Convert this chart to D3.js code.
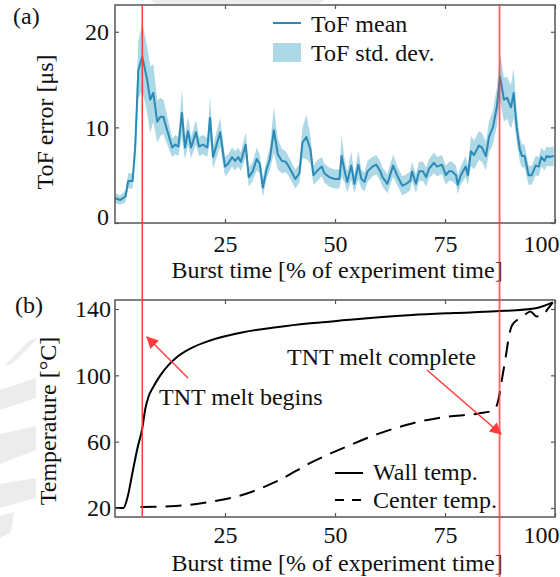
<!DOCTYPE html>
<html>
<head>
<meta charset="utf-8">
<script src="https://cdn.jsdelivr.net/npm/d3@7"></script>
<style>
  html, body { margin: 0; padding: 0; background: #fff; }
  svg { display: block; }
  text { font-family: "Liberation Serif", "Times New Roman", serif; fill: #111; }
</style>
</head>
<body>
<svg id="chart" width="560" height="577"></svg>
<script>
// ---------- Data ----------
const burstTime = [
  0, 1.2, 2.4, 3, 4, 4.6, 5.3, 6.2, 7.3, 8,
  8.7, 9.6, 10.3, 11, 11.6, 13, 13.7, 14.4, 15.2, 15.9,
  16.6, 17.3, 18.4, 19.1, 20, 21, 21.6, 22.3, 23.9, 25,
  25.7, 26.6, 27.3, 28, 28.6, 29.7, 30.4, 31.3, 32.2, 32.9,
  33.6, 34.5, 35.2, 36.1, 37, 37.9, 38.8, 39.5, 41, 41.9,
  42.6, 43.5, 44.4, 45.1, 46, 47, 47.6, 48.7, 49.9, 51,
  51.5, 52.2, 52.8, 53.7, 54.4, 55.3, 56, 56.7, 57.4, 58.5,
  59.4, 60.3, 60.8, 61.9, 63.2, 64.1, 65.3, 66.2, 67.1, 67.5,
  68.4, 69.1, 70, 70.7, 71.4, 72.5, 73.2, 74.3, 75.2, 75.9,
  76.6, 77.5, 77.9, 78.6, 79.7, 80.2, 80.9, 81.6, 82.7, 83.4,
  84.3, 85, 85.9, 86.8, 87.5, 88.4, 89.1, 90, 90.6, 91.3,
  92, 92.5, 93.1, 94, 94.7, 95.6, 96.3, 96.9, 97.6, 98.1,
  98.8, 99.7
];
const tofMean = [
  2.6, 2.4, 2.8, 4.4, 4.4, 8, 16, 17.4, 15, 12.9,
  13.6, 10.6, 11.1, 11.1, 10.1, 7.9, 8.2, 8, 11.5, 7.9,
  9.6, 7.9, 9.5, 8, 8.2, 7.9, 11, 6.9, 9.5, 5.9,
  6.2, 6.9, 6.5, 6.9, 6.4, 8.2, 4.8, 5.4, 6.7, 6.2,
  3.7, 5.7, 6.7, 9.7, 7.2, 6.5, 6.4, 5.9, 4.6, 5.2,
  8.4, 9, 7.7, 5, 5.5, 5.9, 5.2, 4.8, 4.6, 4.6,
  7, 5.4, 4.3, 6, 4.1, 6.1, 4.6, 4.3, 5.4, 5.9,
  6.1, 5.4, 4.8, 4.1, 6, 5, 3.9, 4.1, 4.4, 5.4,
  4.1, 5.4, 5.4, 4.8, 5.7, 6.3, 5.9, 6.1, 5, 5.4,
  5.4, 5, 4, 5, 5.9, 5, 7.5, 7.1, 8.1, 7.9,
  7, 9, 10, 12.2, 15.3, 12.9, 13.1, 12.1, 13.6, 10,
  7.7, 7, 7, 5, 5, 6, 5.9, 6.9, 6.5, 7,
  6.9, 7
];
const tofStd = [
  0.5, 0.5, 0.6, 0.8, 0.8, 1.5, 3, 3.5, 3.5, 3.5,
  3, 2.2, 2, 1.8, 1.6, 1, 1, 1, 2.5, 1.2,
  1.5, 1.1, 1.3, 1, 1, 1, 2.3, 1.2, 1.5, 1,
  1, 1, 1, 1, 1, 1.3, 1, 1, 1.2, 1,
  1, 1, 1.2, 2.4, 1.6, 1.3, 1.1, 1, 1, 1,
  1.6, 2.3, 1.5, 1, 1.1, 1, 1, 1, 1, 1,
  2.2, 1.2, 1.1, 1.5, 1, 1.5, 1, 1, 1.1, 1,
  1, 1, 1, 1, 1.2, 1, 1, 1, 1, 1,
  1, 1, 1, 1, 1, 1.1, 1, 1, 1, 1,
  1, 1, 1, 1, 1.1, 1, 1.6, 1.5, 1.5, 1.5,
  1.5, 1.6, 1.8, 2, 2.5, 2.3, 2.2, 2.3, 2.6, 1.6,
  1.3, 1.2, 1.2, 1, 1, 1, 1, 1, 1, 1,
  1, 1
];

const wallTime = [0, 1.9, 2.8, 4, 5.1, 6.2, 6.9, 7.6, 8.7, 10.3, 12.1, 14.1, 17.8, 21.6, 29.1, 36.7, 45, 52.6, 60, 67.5, 77, 86.5, 95.6, 99.5];
const wallTemp = [20, 20, 26, 41.7, 56, 68, 80, 87, 93, 100, 106, 111, 117, 121, 126, 129, 131.5, 133.3, 135, 136.4, 137.6, 138.6, 140.5, 144];

const centerTime = [5.8, 12.6, 20, 29.1, 36.7, 45, 52.6, 60.1, 67.5, 75.2, 82.7, 86.1, 87.2, 87.9, 88.8, 89.5, 90.2, 91.7, 93.4, 94.4, 95.8, 97, 98.5, 99.5];
const centerTemp = [20.6, 21, 23, 28, 36, 48, 57, 65, 71, 75, 77, 79, 86, 97, 111, 123, 130, 134, 137, 138.5, 135.5, 136, 140.5, 144];

const xTicks = [25, 50, 75, 100];
const tofTicks = [0, 10, 20];
const tempTicks = [20, 60, 100, 140];
const meltBegin = 6.2;
const meltComplete = 87.4;

// ---------- Setup ----------
const svg = d3.select("#chart");
const FONT = 24;
const left = 115, right = 555;
const aTop = 5, aBottom = 223;
const bTop = 300, bBottom = 517;

const x = d3.scaleLinear().domain([0, 100]).range([left, right]);
const yA = d3.scaleLinear().domain([0, 22.8]).range([aBottom, aTop]);
const yB = d3.scaleLinear().domain([14.57, 145.43]).range([bBottom, bTop]);

// watermark-like faint shapes
const wm = svg.append("g").attr("fill", "#ececec");
[
  [[30, 340], [38, 338], [12, 364], [4, 366]],
  [[0, 390], [36, 378], [36, 398], [0, 410]],
  [[0, 434], [36, 426], [36, 450], [0, 464]],
  [[0, 484], [36, 478], [36, 498], [0, 508]],
  [[0, 516], [14, 512], [11, 532], [0, 538]],
  [[150, 0], [325, 0], [318, 4], [156, 4]]
].forEach(p => wm.append("polygon").attr("points", p.map(d => d.join(",")).join(" ")));

const topData = burstTime.map((t, i) => ({ t, m: tofMean[i], s: tofStd[i] }));
const wallData = wallTime.map((t, i) => ({ t, v: wallTemp[i] }));
const centerData = centerTime.map((t, i) => ({ t, v: centerTemp[i] }));

const blue = "#2c8ab8", band = "#add8e6";

// ---------- Panel (a) ----------
const gA = svg.append("g");
gA.append("path").datum(topData)
  .attr("fill", band)
  .attr("d", d3.area().x(d => x(d.t)).y0(d => yA(Math.max(d.m - d.s, 0))).y1(d => yA(d.m + d.s)));
gA.append("path").datum(topData)
  .attr("fill", "none").attr("stroke", blue).attr("stroke-width", 2)
  .attr("stroke-linejoin", "round")
  .attr("d", d3.line().x(d => x(d.t)).y(d => yA(d.m)));

function styleAxis(g) {
  g.select(".domain").remove();
  g.selectAll(".tick line").attr("stroke", "#555").attr("stroke-width", 1.2);
  g.selectAll(".tick text").attr("font-size", FONT).attr("font-family", "Liberation Serif, Times New Roman, serif").attr("fill", "#111");
}

const axBA = gA.append("g").attr("transform", `translate(0,${aBottom})`)
  .call(d3.axisBottom(x).tickValues(xTicks).tickSizeInner(-4).tickSizeOuter(0).tickPadding(12).tickFormat(d3.format("d")));
styleAxis(axBA);
axBA.selectAll(".tick text").filter(d => d === 100).attr("text-anchor", "end").attr("dx", 4);
const axTA = gA.append("g").attr("transform", `translate(0,${aTop})`)
  .call(d3.axisTop(x).tickValues(xTicks).tickSizeInner(-4).tickSizeOuter(0).tickFormat(""));
styleAxis(axTA);
const axLA = gA.append("g").attr("transform", `translate(${left},0)`)
  .call(d3.axisLeft(yA).tickValues(tofTicks).tickSizeInner(-4).tickSizeOuter(0).tickPadding(6).tickFormat(d3.format("d")));
styleAxis(axLA);
axLA.selectAll(".tick text").filter(d => d === 0).attr("dy", "0.05em");
const axRA = gA.append("g").attr("transform", `translate(${right},0)`)
  .call(d3.axisRight(yA).tickValues(tofTicks).tickSizeInner(-4).tickSizeOuter(0).tickFormat(""));
styleAxis(axRA);

gA.append("rect").attr("x", left).attr("y", aTop).attr("width", right - left).attr("height", aBottom - aTop)
  .attr("fill", "none").attr("stroke", "#555").attr("stroke-width", 1.5);

// legend (a)
gA.append("line").attr("x1", 273).attr("x2", 301).attr("y1", 23).attr("y2", 23).attr("stroke", blue).attr("stroke-width", 2);
gA.append("text").attr("x", 311).attr("y", 32).attr("font-size", FONT).text("ToF mean");
gA.append("rect").attr("x", 273).attr("y", 43).attr("width", 28).attr("height", 19).attr("fill", band);
gA.append("text").attr("x", 311).attr("y", 61).attr("font-size", FONT).text("ToF std. dev.");

// labels (a)
svg.append("text").attr("x", 13).attr("y", 24).attr("font-size", FONT).text("(a)");
svg.append("text").attr("transform", "translate(53,122) rotate(-90)").attr("text-anchor", "middle").attr("font-size", FONT).text("ToF error [μs]");
svg.append("text").attr("x", 337).attr("y", 278).attr("text-anchor", "middle").attr("font-size", FONT).text("Burst time [% of experiment time]");

// ---------- Panel (b) ----------
const gB = svg.append("g");
gB.append("path").datum(wallData)
  .attr("fill", "none").attr("stroke", "#000").attr("stroke-width", 2)
  .attr("d", d3.line().curve(d3.curveMonotoneX).x(d => x(d.t)).y(d => yB(d.v)));
gB.append("path").datum(centerData)
  .attr("fill", "none").attr("stroke", "#000").attr("stroke-width", 2).attr("stroke-dasharray", "16,9")
  .attr("d", d3.line().curve(d3.curveMonotoneX).x(d => x(d.t)).y(d => yB(d.v)));

const axBB = gB.append("g").attr("transform", `translate(0,${bBottom})`)
  .call(d3.axisBottom(x).tickValues(xTicks).tickSizeInner(-4).tickSizeOuter(0).tickPadding(9).tickFormat(d3.format("d")));
styleAxis(axBB);
axBB.selectAll(".tick text").filter(d => d === 100).attr("text-anchor", "end").attr("dx", 4);
const axTB = gB.append("g").attr("transform", `translate(0,${bTop})`)
  .call(d3.axisTop(x).tickValues(xTicks).tickSizeInner(-4).tickSizeOuter(0).tickFormat(""));
styleAxis(axTB);
const axLB = gB.append("g").attr("transform", `translate(${left},0)`)
  .call(d3.axisLeft(yB).tickValues(tempTicks).tickSizeInner(-4).tickSizeOuter(0).tickPadding(4).tickFormat(d3.format("d")));
styleAxis(axLB);
const axRB = gB.append("g").attr("transform", `translate(${right},0)`)
  .call(d3.axisRight(yB).tickValues(tempTicks).tickSizeInner(-4).tickSizeOuter(0).tickFormat(""));
styleAxis(axRB);

gB.append("rect").attr("x", left).attr("y", bTop).attr("width", right - left).attr("height", bBottom - bTop)
  .attr("fill", "none").attr("stroke", "#555").attr("stroke-width", 1.5);

// legend (b)
gB.append("line").attr("x1", 335).attr("x2", 363).attr("y1", 473).attr("y2", 473).attr("stroke", "#000").attr("stroke-width", 2);
gB.append("text").attr("x", 373).attr("y", 480).attr("font-size", FONT).text("Wall temp.");
gB.append("line").attr("x1", 335).attr("x2", 364).attr("y1", 500).attr("y2", 500).attr("stroke", "#000").attr("stroke-width", 2).attr("stroke-dasharray", "9,8");
gB.append("text").attr("x", 373).attr("y", 508).attr("font-size", FONT).text("Center temp.");

svg.append("text").attr("x", 15).attr("y", 313).attr("font-size", FONT).text("(b)");
svg.append("text").attr("transform", "translate(56,421) rotate(-90)").attr("text-anchor", "middle").attr("font-size", FONT).text("Temperature [°C]");
svg.append("text").attr("x", 337).attr("y", 571).attr("text-anchor", "middle").attr("font-size", FONT).text("Burst time [% of experiment time]");

// ---------- Red markers & annotations ----------
const red = "#ff3c3c";
svg.append("line").attr("x1", x(meltBegin)).attr("x2", x(meltBegin)).attr("y1", aTop).attr("y2", bBottom)
  .attr("stroke", red).attr("stroke-width", 1.5);
svg.append("line").attr("x1", x(meltComplete)).attr("x2", x(meltComplete)).attr("y1", aTop).attr("y2", 577)
  .attr("stroke", red).attr("stroke-width", 1.8).attr("opacity", 0.8);

svg.append("defs").append("marker").attr("id", "arr").attr("viewBox", "0 0 10 10")
  .attr("refX", 9).attr("refY", 5).attr("markerWidth", 14).attr("markerHeight", 12)
  .attr("markerUnits", "userSpaceOnUse").attr("orient", "auto")
  .append("path").attr("d", "M0,0 L10,5 L0,10 z").attr("fill", red);

svg.append("line").attr("x1", 188).attr("y1", 378).attr("x2", 147).attr("y2", 337)
  .attr("stroke", red).attr("stroke-width", 1.5).attr("marker-end", "url(#arr)");
svg.append("line").attr("x1", 427).attr("y1", 370).attr("x2", 501).attr("y2", 434)
  .attr("stroke", red).attr("stroke-width", 1.5).attr("marker-end", "url(#arr)");

svg.append("text").attr("x", 159).attr("y", 405).attr("font-size", FONT).text("TNT melt begins");
svg.append("text").attr("x", 287).attr("y", 365).attr("font-size", FONT).text("TNT melt complete");
</script>
</body>
</html>
